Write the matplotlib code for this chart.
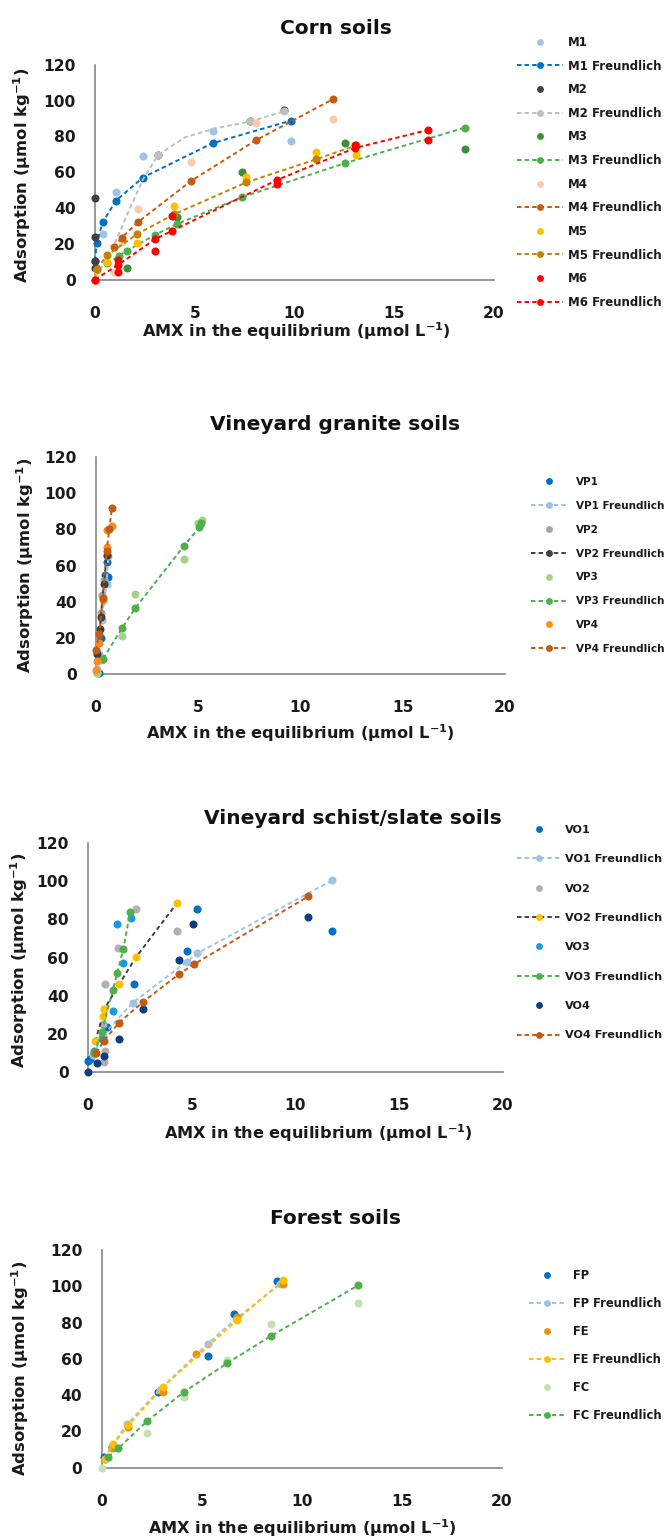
import matplotlib
matplotlib.use("Agg")
import matplotlib.pyplot as plt

plt.rcParams["font.family"] = ["DejaVu Sans"]
plt.rcParams["font.weight"] = "bold"
plt.rcParams["mathtext.fontset"] = "dejavusans"

# ---------------- Corn soils ----------------
m1_x = [0.38, 1.05, 2.39, 5.93, 9.82]
m1_y = [25.5, 49.1, 68.9, 83.1, 77.4]
m1f_x = [0.0, 0.09, 0.38, 1.05, 2.39, 5.9, 9.82]
m1f_y = [10.5, 20.6, 31.9, 44.1, 57.0, 76.3, 88.9]
m2_x = [0, 0, 0, 0, 3.17, 7.79, 9.46]
m2_y = [45.4, 23.6, 10.5, 6.3, 69.7, 88.4, 94.9]
m2f_x = [0.05, 0.8, 1.6, 2.4, 3.17, 4.5, 6.0, 7.79, 9.46]
m2f_y = [2, 15, 36, 56, 69.7, 79.5, 84.5, 88.4, 94.0]
m3_x = [1.62, 4.1, 7.36, 12.53, 18.57]
m3_y = [6.3, 35.2, 59.9, 76.3, 72.9]
m3f_x = [0.6, 1.22, 1.62, 3.0, 4.1, 7.36, 12.53, 18.57]
m3f_y = [9, 13.2, 16.2, 24.9, 31, 46, 65.1, 85.0]
m4_x = [0.95, 1.34, 2.14, 4.81, 8.07, 11.91]
m4_y = [4.4, 20.7, 39.4, 66.0, 87.4, 89.8]
m4f_x = [0.95, 1.34, 2.14, 4.81, 8.07, 11.91]
m4f_y = [18.0, 23.4, 32.0, 55.1, 77.9, 100.8]
m5_x = [0.09, 0.62, 2.12, 3.97, 7.58, 11.1, 13.08]
m5_y = [5.3, 10, 20.6, 41.1, 57.3, 71.1, 69.8]
m5f_x = [0.09, 0.62, 2.12, 3.97, 7.58, 11.1, 13.08]
m5f_y = [6, 13.7, 25.5, 36.5, 54.3, 67.3, 75.0]
m6_x = [0, 1.17, 1.17, 3.0, 3.84, 9.11, 13.02, 16.71]
m6_y = [0, 4.4, 11, 16.0, 35.7, 53.6, 75.0, 77.8]
m6f_x = [0, 1.17, 3.0, 3.84, 9.11, 13.02, 16.71]
m6f_y = [0, 8.2, 22.5, 27.1, 55.6, 73.5, 83.7]

# ---------------- Vineyard granite soils ----------------
vp1_x = [0.16, 0.16, 0.23, 0.44, 0.6, 0.52]
vp1_y = [0.4, 10.5, 19.7, 54.7, 53.5, 62.1]
vp1f_x = [0.05, 0.16, 0.28, 0.52, 0.6]
vp1f_y = [3, 11, 29.9, 50, 65]
vp2_x = [0.04, 0.23, 0.28, 0.39, 0.52]
vp2_y = [0.4, 33.6, 43.7, 52, 65]
vp2f_x = [0.07, 0.2, 0.23, 0.39, 0.52]
vp2f_y = [11, 25, 31.5, 50, 66]
vp3_x = [0.05, 0.28, 1.27, 1.91, 4.3, 5.0, 5.18]
vp3_y = [0.3, 7.7, 21.0, 44.2, 63.4, 83.5, 85.3]
vp3f_x = [0.35, 1.27, 1.91, 4.3, 5.05, 5.13]
vp3f_y = [8.5, 25.3, 36.3, 70.8, 81.1, 83.5]
vp4_x = [0.0, 0.07, 0.16, 0.33, 0.52, 0.52, 0.77]
vp4_y = [2.2, 7, 17, 40.9, 70, 79.6, 81.9]
vp4f_x = [0.0, 0.16, 0.33, 0.52, 0.65, 0.77]
vp4f_y = [13, 22, 42, 68, 80, 91.6]

# ---------------- Vineyard schist/slate soils ----------------
vo1_x = [0.02, 0.1, 0.9, 2.22, 4.76, 5.27, 11.76]
vo1_y = [5.8, 7, 23.8, 46.1, 63.6, 85.3, 74.1]
vo1f_x = [0.25, 0.7, 2.15, 4.76, 5.27, 11.76]
vo1f_y = [9, 19, 36.3, 57.8, 62.2, 100.4]
vo2_x = [0.71, 0.78, 0.82, 0.82, 1.46, 2.31, 4.3]
vo2_y = [25, 5.3, 11, 46.1, 64.8, 85.3, 74.1]
vo2f_x = [0.35, 0.71, 0.78, 1.5, 2.31, 4.3]
vo2f_y = [16, 29.5, 32.8, 46, 60.1, 88.7]
vo3_x = [0.31, 0.66, 1.22, 1.41, 1.67, 2.07]
vo3_y = [11.2, 17.1, 32, 77.6, 57.3, 80.5]
vo3f_x = [0.3, 0.66, 1.2, 1.41, 1.7, 2.03]
vo3f_y = [10, 21.1, 43, 52, 64.3, 84]
vo4_x = [0.0, 0.45, 0.77, 1.5, 2.67, 4.39, 5.04, 10.61]
vo4_y = [0, 4.5, 8.4, 17.1, 32.9, 58.7, 77.4, 81.1]
vo4f_x = [0.4, 0.77, 1.5, 2.67, 4.4, 5.1, 10.61]
vo4f_y = [10, 16.4, 25.9, 36.9, 51.4, 56.4, 92]

# ---------------- Forest soils ----------------
fp_x = [0.12, 0.5, 2.83, 5.33, 6.62, 8.74]
fp_y = [6.1, 11.2, 42, 61.4, 84.5, 102.8]
fpf_x = [0.15, 0.5, 1.27, 2.9, 5.3, 6.7, 8.9]
fpf_y = [5, 12, 24, 43, 68.4, 82, 101]
fe_x = [0.15, 0.5, 1.33, 3.05, 4.72, 6.75, 9.06]
fe_y = [5, 10.9, 22.3, 42, 62.9, 83.2, 101]
fef_x = [0.15, 0.58, 1.33, 3.05, 6.75, 9.06]
fef_y = [5, 13.1, 23.3, 44.4, 81.3, 103.4]
fc_x = [0.0, 0.33, 0.83, 2.28, 4.12, 6.25, 8.44, 12.83]
fc_y = [0, 5.2, 10.7, 19.4, 38.9, 59.6, 79, 91]
fcf_x = [0.33, 0.83, 2.28, 4.12, 6.25, 8.44, 12.83]
fcf_y = [6, 10.7, 25.8, 41.8, 57.5, 72.5, 100.6]

# ---------------- styling ----------------
MS = 5.8
DASH = (0, (2.3, 1.6))
LW = 1.4
XLABEL = r"AMX in the equilibrium (µmol L$^{\mathbf{-1}}$)"
YLABEL = r"Adsorption (µmol kg$^{\mathbf{-1}}$)"

W, H = 666, 1540
fig = plt.figure(figsize=(W / 100, H / 100), dpi=100)


def px_rect(x0, x1, y_top, y_bot):
    return [x0 / W, 1 - y_bot / H, (x1 - x0) / W, (y_bot - y_top) / H]


def draw_panel(rect, series, title, title_xy, xlab_xy, ylab_xy, leg):
    ax = fig.add_axes(rect)
    for s in series:
        label, x, y = s[0], s[1], s[2]
        if s[3] == "pt":
            ax.plot(x, y, ls="none", marker="o", ms=MS, color=s[4], mew=0,
                    label=label, zorder=3, clip_on=False)
        else:
            lc, mc = s[4], s[5]
            me = s[6] if len(s) > 6 else None
            ax.plot(x, y, ls=DASH, lw=LW, color=lc, marker="o", ms=MS,
                    mfc=mc, mec=mc, mew=0, markevery=me, label=label,
                    zorder=3, clip_on=False)
    ax.set_xlim(0, 20)
    ax.set_ylim(0, 120)
    ax.set_xticks([0, 5, 10, 15, 20])
    ax.set_yticks([0, 20, 40, 60, 80, 100, 120])
    for sp in ["top", "right"]:
        ax.spines[sp].set_visible(False)
    for sp in ["left", "bottom"]:
        ax.spines[sp].set_color("#868686")
        ax.spines[sp].set_linewidth(1.2)
    ax.tick_params(axis="both", length=0, labelsize=11.2, colors="#1a1a1a")
    ax.tick_params(axis="y", pad=14)
    ax.tick_params(axis="x", pad=19)
    for lab in ax.get_xticklabels() + ax.get_yticklabels():
        lab.set_fontweight("bold")
    fig.text(title_xy[0] / W, 1 - title_xy[1] / H, title, ha="center",
             va="center", fontsize=14.5, fontweight="bold", color="#111111")
    fig.text(xlab_xy[0] / W, 1 - xlab_xy[1] / H, XLABEL, ha="center",
             va="center", fontsize=11.6, fontweight="bold", color="#1a1a1a")
    fig.text(ylab_xy[0] / W, 1 - ylab_xy[1] / H, YLABEL, ha="center",
             va="center", rotation=90, fontsize=11.8, fontweight="bold",
             color="#1a1a1a")
    handles, labels = ax.get_legend_handles_labels()
    lg = fig.legend(handles, labels, loc="upper left",
                    bbox_to_anchor=(leg["x"] / W, 1 - leg["y"] / H),
                    bbox_transform=fig.transFigure, frameon=False,
                    fontsize=leg["fs"], labelspacing=leg["ls"],
                    handlelength=leg["hl"], handletextpad=leg["tp"],
                    borderpad=0, borderaxespad=0, numpoints=1,
                    markerscale=0.85)
    for t in lg.get_texts():
        t.set_fontweight("bold")
        t.set_color("#1a1a1a")
    return ax


corn = [
    ("M1", m1_x, m1_y, "pt", "#9DC3E6"),
    ("M1 Freundlich", m1f_x, m1f_y, "fit", "#0070C0", "#0070C0"),
    ("M2", m2_x, m2_y, "pt", "#404040"),
    ("M2 Freundlich", m2f_x, m2f_y, "fit", "#BFBFBF", "#BFBFBF", [4, 7, 8]),
    ("M3", m3_x, m3_y, "pt", "#3A8F3A"),
    ("M3 Freundlich", m3f_x, m3f_y, "fit", "#4DB04A", "#4DB04A"),
    ("M4", m4_x, m4_y, "pt", "#F8CBAD"),
    ("M4 Freundlich", m4f_x, m4f_y, "fit", "#C55A11", "#C55A11"),
    ("M5", m5_x, m5_y, "pt", "#FFC000"),
    ("M5 Freundlich", m5f_x, m5f_y, "fit", "#BF8500", "#BF8500"),
    ("M6", m6_x, m6_y, "pt", "#FF0000"),
    ("M6 Freundlich", m6f_x, m6f_y, "fit", "#FF0000", "#FF0000"),
]
granite = [
    ("VP1", vp1_x, vp1_y, "pt", "#0070C0"),
    ("VP1 Freundlich", vp1f_x, vp1f_y, "fit", "#9DC3E6", "#9DC3E6"),
    ("VP2", vp2_x, vp2_y, "pt", "#A6A6A6"),
    ("VP2 Freundlich", vp2f_x, vp2f_y, "fit", "#404040", "#404040"),
    ("VP3", vp3_x, vp3_y, "pt", "#A9D18E"),
    ("VP3 Freundlich", vp3f_x, vp3f_y, "fit", "#4DB04A", "#4DB04A"),
    ("VP4", vp4_x, vp4_y, "pt", "#FF8C1A"),
    ("VP4 Freundlich", vp4f_x, vp4f_y, "fit", "#C55A11", "#C55A11"),
]
schist = [
    ("VO1", vo1_x, vo1_y, "pt", "#0070C0"),
    ("VO1 Freundlich", vo1f_x, vo1f_y, "fit", "#9DC3E6", "#9DC3E6"),
    ("VO2", vo2_x, vo2_y, "pt", "#B0B0B0"),
    ("VO2 Freundlich", vo2f_x, vo2f_y, "fit", "#404040", "#FFC000"),
    ("VO3", vo3_x, vo3_y, "pt", "#1A9BE0"),
    ("VO3 Freundlich", vo3f_x, vo3f_y, "fit", "#4DB04A", "#4DB04A"),
    ("VO4", vo4_x, vo4_y, "pt", "#0E3E82"),
    ("VO4 Freundlich", vo4f_x, vo4f_y, "fit", "#C55A11", "#C55A11"),
]
forest = [
    ("FP", fp_x, fp_y, "pt", "#0070C0"),
    ("FP Freundlich", fpf_x, fpf_y, "fit", "#9DC3E6", "#9DC3E6"),
    ("FE", fe_x, fe_y, "pt", "#E8900C"),
    ("FE Freundlich", fef_x, fef_y, "fit", "#FFC000", "#FFC000"),
    ("FC", fc_x, fc_y, "pt", "#C5E0B4"),
    ("FC Freundlich", fcf_x, fcf_y, "fit", "#4DB04A", "#4DB04A"),
]

draw_panel(px_rect(95, 494, 65, 279.5), corn, "Corn soils",
           (336, 29), (296, 331), (22, 175),
           dict(x=517, y=36, fs=8.5, ls=0.9, hl=3.9, tp=0.4))
draw_panel(px_rect(96, 505, 457, 674), granite, "Vineyard granite soils",
           (335, 425), (300, 733), (25, 565),
           dict(x=531, y=477, fs=7.5, ls=1.33, hl=3.46, tp=0.87))
draw_panel(px_rect(88, 503, 843, 1072), schist, "Vineyard schist/slate soils",
           (353, 818), (318, 1133), (19, 960),
           dict(x=517, y=825, fs=8.1, ls=1.72, hl=3.9, tp=0.33))
draw_panel(px_rect(101.7, 502, 1250, 1467.7), forest, "Forest soils",
           (336, 1219), (302, 1528), (20, 1368),
           dict(x=529, y=1269, fs=8.3, ls=1.3, hl=3.2, tp=0.6))

fig.savefig("out.png", dpi=100, facecolor="white")
